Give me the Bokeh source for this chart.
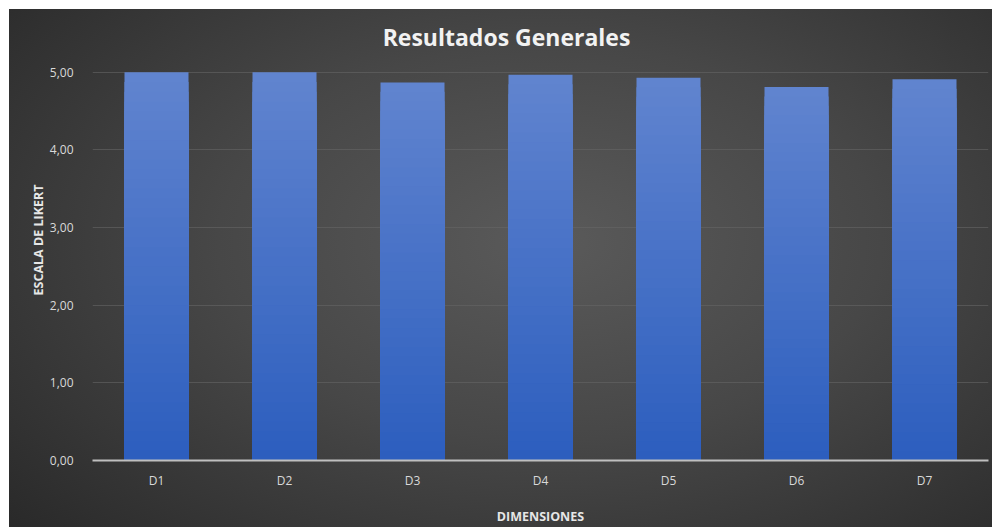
from bokeh.plotting import figure
from bokeh.models import Range1d, FixedTicker, CustomJSTickFormatter, Label
from bokeh.embed import file_html
from bokeh.resources import INLINE

categories = ["D1", "D2", "D3", "D4", "D5", "D6", "D7"]
values = [5.00, 5.00, 4.87, 4.97, 4.93, 4.81, 4.91]
y_ticks = [0, 1, 2, 3, 4, 5]
title_text = "Resultados Generales"

W, H = 983, 518
# y range extends above 5 to leave room for the title inside the frame
p = figure(x_range=categories, y_range=Range1d(0, 5.68), width=W, height=H,
           output_backend="svg", toolbar_location=None,
           min_border_left=83, min_border_right=4, min_border_top=10, min_border_bottom=67)
p.styles = {"background-image": "radial-gradient(ellipse 75% 85% at 55% 45%, #5a5a5a 0%, #474747 45%, #282828 100%)",
            "margin-left": "9px", "margin-top": "9px"}
p.border_fill_color = None
p.background_fill_color = None
p.outline_line_color = None

# gradient bars: overlapping bars, lightest (full height) first, darker shorter ones on top
N = 40
c_bot = (0x2c, 0x5e, 0xbe)
c_top = (0x61, 0x84, 0xcf)
for i in range(N):
    frac = (N - i) / N
    t = (N - i - 0.5) / N
    col = "#%02x%02x%02x" % tuple(int(round(b + (a - b) * t)) for a, b in zip(c_top, c_bot))
    tops = [v * frac for v in values]
    p.vbar(x=categories, bottom=0, top=tops, width=0.5, fill_color=col, line_color=None)

title = Label(text=title_text, x=414, y=424, x_units="screen", y_units="screen",
              text_align="center", text_baseline="middle", text_color="#f2f2f2",
              text_font="Open Sans", text_font_size="23px", text_font_style="bold")
p.add_layout(title)

p.yaxis.ticker = FixedTicker(ticks=y_ticks)
p.yaxis.formatter = CustomJSTickFormatter(code="return tick.toFixed(2).replace('.', ',');")
p.yaxis.axis_line_color = None
p.yaxis.major_tick_line_color = None
p.yaxis.minor_tick_line_color = None
p.yaxis.major_label_text_color = "#d9d9d9"
p.yaxis.major_label_text_font = "Open Sans"
p.yaxis.major_label_text_font_size = "12px"
p.yaxis.major_label_standoff = 13
p.yaxis.axis_label = "ESCALA DE LIKERT"
p.yaxis.axis_label_text_color = "#e6e6e6"
p.yaxis.axis_label_text_font = "Open Sans"
p.yaxis.axis_label_text_font_size = "12.5px"
p.yaxis.axis_label_text_font_style = "bold"
p.yaxis.axis_label_standoff = 0

p.xaxis.axis_line_color = "#bfbfbf"
p.xaxis.axis_line_width = 2
p.xaxis.major_tick_line_color = None
p.xaxis.minor_tick_line_color = None
p.xaxis.major_label_text_color = "#d9d9d9"
p.xaxis.major_label_text_font = "Open Sans"
p.xaxis.major_label_text_font_size = "12px"
p.xaxis.major_label_standoff = 5
p.xaxis.axis_label = "DIMENSIONES"
p.xaxis.axis_label_text_color = "#e6e6e6"
p.xaxis.axis_label_text_font = "Open Sans"
p.xaxis.axis_label_text_font_size = "12.5px"
p.xaxis.axis_label_text_font_style = "bold"
p.xaxis.axis_label_standoff = 16

p.xgrid.grid_line_color = None
p.ygrid.grid_line_color = "#666666"
p.ygrid.grid_line_alpha = 0.6
p.ygrid.grid_line_width = 1
p.x_range.range_padding = 0

open("out.html", "w").write(file_html(p, INLINE))
